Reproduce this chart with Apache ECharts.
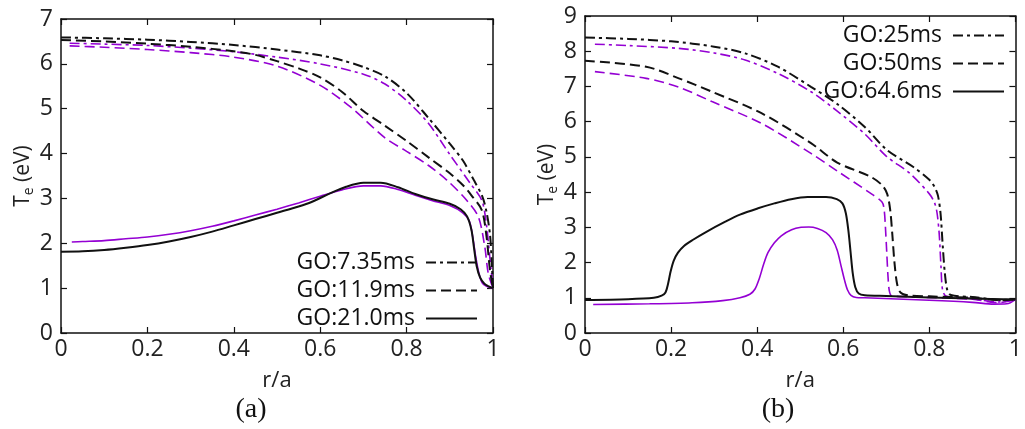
<!DOCTYPE html>
<html>
<head>
<meta charset="utf-8">
<script src="https://cdn.jsdelivr.net/npm/echarts@6/dist/echarts.min.js"></script>
<style>
  html, body { margin: 0; padding: 0; background: #fff; }
  #chart { width: 1025px; height: 429px; }
</style>
</head>
<body>
<div id="chart"></div>
<script>
// axis ranges
const yMaxA = 7;
const yMaxB = 9;

// panel (a): [r/a, Te]
const a735Black = [[0,6.59],[0.1,6.57],[0.2,6.54],[0.3,6.49],[0.4,6.42],[0.5,6.32],[0.6,6.19],[0.65,6.08],[0.7,5.93],[0.75,5.72],[0.8,5.35],[0.85,4.8],[0.9,4.22],[0.93,3.85],[0.955,3.42],[0.975,3.05],[0.985,2.7],[0.993,2.2],[0.997,1.6],[1,1.0]];
const a735Purple = [[0.02,6.46],[0.1,6.44],[0.2,6.41],[0.3,6.35],[0.4,6.27],[0.5,6.15],[0.6,6.0],[0.7,5.77],[0.75,5.55],[0.8,5.18],[0.85,4.68],[0.9,3.98],[0.947,3.34],[0.974,2.96],[0.985,2.4],[0.993,1.65],[1,1.0]];
const a119Black = [[0,6.53],[0.1,6.5],[0.2,6.45],[0.3,6.38],[0.4,6.28],[0.45,6.2],[0.5,6.06],[0.55,5.9],[0.6,5.7],[0.65,5.38],[0.7,4.95],[0.75,4.62],[0.8,4.28],[0.85,3.92],[0.9,3.56],[0.93,3.3],[0.95,3.07],[0.974,2.74],[0.985,2.15],[0.993,1.4],[1,1.0]];
const a119Purple = [[0.02,6.4],[0.1,6.37],[0.2,6.32],[0.3,6.25],[0.4,6.15],[0.5,5.95],[0.6,5.52],[0.67,5.04],[0.75,4.35],[0.8,4.05],[0.85,3.74],[0.893,3.41],[0.939,2.96],[0.966,2.59],[0.981,1.92],[0.989,1.33],[1,1.0]];
const a210Black = [[0,1.81],[0.05,1.82],[0.1,1.85],[0.15,1.9],[0.2,1.96],[0.25,2.04],[0.3,2.14],[0.35,2.26],[0.4,2.4],[0.45,2.54],[0.5,2.68],[0.55,2.82],[0.58,2.92],[0.62,3.1],[0.66,3.26],[0.7,3.35],[0.74,3.35],[0.78,3.25],[0.82,3.1],[0.86,2.98],[0.9,2.88],[0.925,2.76],[0.94,2.6],[0.95,2.3],[0.956,1.9],[0.962,1.5],[0.97,1.24],[0.98,1.1],[0.99,1.04],[1,1.0]];
const a210Purple = [[0.025,2.03],[0.05,2.04],[0.1,2.06],[0.15,2.1],[0.2,2.14],[0.25,2.2],[0.3,2.28],[0.35,2.38],[0.4,2.5],[0.45,2.63],[0.5,2.76],[0.55,2.9],[0.6,3.05],[0.65,3.19],[0.7,3.28],[0.74,3.28],[0.78,3.2],[0.82,3.07],[0.86,2.95],[0.9,2.84],[0.93,2.68],[0.945,2.5],[0.953,2.15],[0.96,1.7],[0.967,1.35],[0.975,1.12],[0.985,1.04],[1,1.0]];

// panel (b): [r/a, Te]
const b25Black = [[0,8.39],[0.1,8.35],[0.2,8.28],[0.3,8.13],[0.372,7.94],[0.448,7.56],[0.525,6.99],[0.586,6.5],[0.65,5.85],[0.701,5.2],[0.762,4.72],[0.8,4.35],[0.812,4.15],[0.82,3.9],[0.826,3.4],[0.831,2.5],[0.836,1.7],[0.842,1.2],[0.85,1.08],[0.9,1.02],[0.969,0.94],[1,0.96]];
const b25Purple = [[0.023,8.2],[0.1,8.16],[0.218,8.08],[0.3,7.95],[0.372,7.75],[0.448,7.37],[0.525,6.85],[0.586,6.3],[0.65,5.65],[0.701,5.01],[0.755,4.53],[0.8,3.95],[0.812,3.7],[0.818,3.4],[0.823,2.8],[0.827,1.9],[0.831,1.2],[0.84,1.04],[0.9,0.97],[0.96,0.88],[1,0.95]];
const b50Black = [[0,7.73],[0.142,7.56],[0.218,7.23],[0.295,6.85],[0.41,6.24],[0.525,5.39],[0.586,4.84],[0.663,4.44],[0.69,4.2],[0.702,3.95],[0.709,3.5],[0.714,2.8],[0.719,2.0],[0.725,1.4],[0.733,1.15],[0.75,1.07],[0.8,1.04],[0.9,1.0],[0.97,0.93],[1,0.96]];
const b50Purple = [[0.023,7.42],[0.142,7.23],[0.218,6.98],[0.295,6.57],[0.41,5.95],[0.525,5.1],[0.586,4.6],[0.663,3.97],[0.69,3.72],[0.695,3.5],[0.698,3.0],[0.701,2.3],[0.704,1.6],[0.707,1.2],[0.712,1.06],[0.75,1.03],[0.9,0.96],[0.96,0.86],[1,0.95]];
const b646Black = [[0,0.94],[0.1,0.96],[0.16,1.0],[0.178,1.06],[0.187,1.15],[0.193,1.4],[0.199,1.75],[0.206,2.05],[0.216,2.28],[0.23,2.47],[0.25,2.64],[0.28,2.86],[0.326,3.16],[0.36,3.36],[0.402,3.54],[0.44,3.68],[0.479,3.8],[0.517,3.86],[0.56,3.86],[0.585,3.8],[0.598,3.68],[0.606,3.4],[0.612,2.9],[0.617,2.3],[0.622,1.7],[0.628,1.3],[0.636,1.12],[0.65,1.07],[0.7,1.05],[0.8,1.01],[0.9,0.98],[1,0.95]];
const b646Purple = [[0.019,0.81],[0.15,0.83],[0.249,0.86],[0.32,0.92],[0.36,1.0],[0.383,1.1],[0.395,1.25],[0.405,1.55],[0.415,1.95],[0.425,2.28],[0.44,2.56],[0.456,2.76],[0.48,2.93],[0.502,3.0],[0.52,3.01],[0.54,2.97],[0.56,2.85],[0.575,2.65],[0.586,2.35],[0.595,1.9],[0.603,1.5],[0.61,1.22],[0.618,1.07],[0.63,1.01],[0.65,1.0],[0.8,0.93],[0.9,0.87],[0.95,0.82],[0.98,0.83],[1,0.95]];

const legendA = ['GO:7.35ms', 'GO:11.9ms', 'GO:21.0ms'];
const legendB = ['GO:25ms', 'GO:50ms', 'GO:64.6ms'];

const black = '#111111';
const purple = '#9400D3';
const fontFam = '"Open Sans", "Noto Sans", sans-serif';
const dashDot = [10, 4, 3, 4];
const dashed = [10, 5];

const chart = echarts.init(document.getElementById('chart'), null, { renderer: 'canvas' });

function line(name, data, grid, color, width, type) {
  return {
    name: name,
    type: 'line',
    xAxisIndex: grid * 2,
    yAxisIndex: grid * 2,
    data: data,
    symbol: 'none',
    smooth: 0.3,
    lineStyle: { color: color, width: width, type: type },
    itemStyle: { color: color },
    z: color === black ? 3 : 2
  };
}

function xAxes(grid) {
  const base = {
    type: 'value', gridIndex: grid, min: 0, max: 1, interval: 0.2,
    axisLine: { show: true, onZero: false, lineStyle: { color: black, width: 1.5 } },
    axisTick: { show: true, inside: true, length: 6, lineStyle: { color: black, width: 1.2 } },
    splitLine: { show: false }
  };
  return [
    Object.assign({}, base, {
      position: 'bottom',
      name: 'r/a', nameLocation: 'middle', nameGap: 37,
      nameTextStyle: { fontFamily: fontFam, fontSize: 22, color: '#222' },
      axisLabel: { fontFamily: fontFam, fontSize: 23, color: '#222', margin: 5 }
    }),
    Object.assign({}, base, { position: 'top', axisLabel: { show: false } })
  ];
}

function yAxes(grid, max) {
  const base = {
    type: 'value', gridIndex: grid, min: 0, max: max, interval: 1,
    axisLine: { show: true, onZero: false, lineStyle: { color: black, width: 1.5 } },
    axisTick: { show: true, inside: true, length: 6, lineStyle: { color: black, width: 1.2 } },
    splitLine: { show: false }
  };
  return [
    Object.assign({}, base, {
      position: 'left',
      name: '{t|T}{s|e}{t| (eV)}', nameLocation: 'middle', nameGap: 23,
      nameTextStyle: {
        color: '#222',
        rich: {
          t: { fontFamily: fontFam, fontSize: 21, color: '#222' },
          s: { fontFamily: fontFam, fontSize: 14, color: '#222', padding: [12, 0, 0, 0] }
        }
      },
      axisLabel: { fontFamily: fontFam, fontSize: 23, color: '#222', margin: 8 }
    }),
    Object.assign({}, base, { position: 'right', axisLabel: { show: false } })
  ];
}

const legendBase = {
  orient: 'vertical', align: 'right', padding: 0,
  itemWidth: 51, itemHeight: 12, itemGap: 5,
  selectedMode: false,
  itemStyle: { opacity: 0, borderWidth: 0 },
  textStyle: { fontFamily: fontFam, fontSize: 23, color: '#111', lineHeight: 22, padding: [0, 6, 0, 0] }
};

const option = {
  animation: false,
  backgroundColor: '#fff',
  grid: [
    { left: 61, top: 19, width: 432, height: 314 },
    { left: 585, top: 16, width: 435, height: 317 }
  ],
  xAxis: [...xAxes(0), ...xAxes(1)],
  yAxis: [...yAxes(0, yMaxA), ...yAxes(1, yMaxB)],
  legend: [
    Object.assign({}, legendBase, { data: legendA, right: 547, top: 251 }),
    Object.assign({}, legendBase, { data: legendB, right: 20, top: 24 })
  ],
  series: [
    line('GO:7.35ms purple', a735Purple, 0, purple, 1.6, dashDot),
    line('GO:11.9ms purple', a119Purple, 0, purple, 1.6, dashed),
    line('GO:21.0ms purple', a210Purple, 0, purple, 1.6, 'solid'),
    line(legendA[0], a735Black, 0, black, 2, dashDot),
    line(legendA[1], a119Black, 0, black, 2, dashed),
    line(legendA[2], a210Black, 0, black, 2, 'solid'),
    line('GO:25ms purple', b25Purple, 1, purple, 1.6, dashDot),
    line('GO:50ms purple', b50Purple, 1, purple, 1.6, dashed),
    line('GO:64.6ms purple', b646Purple, 1, purple, 1.6, 'solid'),
    line(legendB[0], b25Black, 1, black, 2, dashDot),
    line(legendB[1], b50Black, 1, black, 2, dashed),
    line(legendB[2], b646Black, 1, black, 2, 'solid')
  ],
  graphic: [
    { type: 'text', x: 251, y: 410, style: { text: '(a)', font: '28px "Liberation Serif", serif', fill: '#111', align: 'center', verticalAlign: 'middle' } },
    { type: 'text', x: 778, y: 410, style: { text: '(b)', font: '28px "Liberation Serif", serif', fill: '#111', align: 'center', verticalAlign: 'middle' } }
  ]
};

chart.setOption(option);
</script>
</body>
</html>
